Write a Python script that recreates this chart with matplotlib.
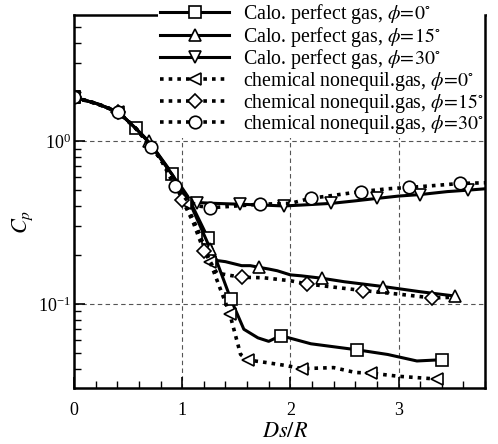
import numpy as np
import matplotlib
matplotlib.use('Agg')
import matplotlib.pyplot as plt
from matplotlib.ticker import MultipleLocator, LogLocator, NullFormatter

plt.rcParams['font.family'] = ['Liberation Serif', 'DejaVu Serif']
plt.rcParams['mathtext.fontset'] = 'stix'

# Calo. perfect gas, phi = 0, 15, 30
calo0_x = [0, 0.21, 0.41, 0.57, 0.72, 0.91, 1.05, 1.24, 1.45, 1.57, 1.70, 1.80, 1.91, 2.19, 2.62, 2.90, 3.17, 3.40]
calo0_y = [1.86, 1.70, 1.51, 1.20, 0.94, 0.63, 0.46, 0.253, 0.107, 0.070, 0.062, 0.059, 0.064, 0.057, 0.0523, 0.049, 0.0447, 0.0455]
calo0_marks = [0, 3, 5, 7, 8, 12, 14, 17]

calo15_x = [0, 0.21, 0.41, 0.57, 0.69, 0.80, 0.91, 1.05, 1.26, 1.32, 1.40, 1.55, 1.63, 1.71, 1.80, 1.88, 2.0, 2.10, 2.29, 2.50, 2.86, 3.2, 3.52]
calo15_y = [1.86, 1.70, 1.51, 1.20, 1.0, 0.78, 0.62, 0.45, 0.218, 0.185, 0.182, 0.172, 0.172, 0.168, 0.164, 0.160, 0.151, 0.149, 0.144, 0.137, 0.128, 0.119, 0.112]
calo15_marks = [0, 4, 8, 13, 18, 20, 22]

calo30_x = [0, 0.21, 0.41, 0.57, 0.72, 0.91, 1.0, 1.07, 1.14, 1.30, 1.53, 1.75, 1.94, 2.10, 2.38, 2.60, 2.80, 3.0, 3.20, 3.45, 3.64, 3.80]
calo30_y = [1.86, 1.70, 1.51, 1.20, 0.94, 0.62, 0.49, 0.43, 0.42, 0.415, 0.41, 0.405, 0.40, 0.405, 0.415, 0.43, 0.445, 0.46, 0.47, 0.49, 0.50, 0.51]
calo30_marks = [0, 8, 10, 12, 14, 16, 18, 20]

# chemical nonequil. gas, phi = 0, 15, 30
chem0_x = [0, 0.21, 0.41, 0.57, 0.72, 0.91, 1.03, 1.15, 1.26, 1.35, 1.44, 1.54, 1.61, 1.78, 1.95, 2.11, 2.40, 2.60, 2.75, 3.0, 3.36]
chem0_y = [1.86, 1.70, 1.51, 1.20, 0.93, 0.60, 0.42, 0.28, 0.18, 0.125, 0.087, 0.049, 0.0453, 0.0437, 0.042, 0.0401, 0.0407, 0.038, 0.0376, 0.036, 0.0346]
chem0_marks = [0, 2, 6, 8, 10, 12, 15, 18, 20]

chem15_x = [0, 0.21, 0.41, 0.57, 0.72, 0.91, 1.0, 1.10, 1.20, 1.32, 1.44, 1.55, 1.75, 2.0, 2.15, 2.40, 2.67, 3.0, 3.31, 3.50]
chem15_y = [1.86, 1.70, 1.51, 1.20, 0.93, 0.60, 0.436, 0.32, 0.213, 0.155, 0.150, 0.146, 0.145, 0.139, 0.133, 0.127, 0.121, 0.115, 0.109, 0.110]
chem15_marks = [0, 2, 6, 8, 11, 14, 16, 18]

chem30_x = [0, 0.21, 0.41, 0.57, 0.71, 0.80, 0.93, 1.05, 1.15, 1.26, 1.50, 1.72, 2.0, 2.19, 2.40, 2.65, 2.90, 3.10, 3.35, 3.57, 3.80]
chem30_y = [1.86, 1.70, 1.51, 1.20, 0.92, 0.78, 0.53, 0.43, 0.40, 0.39, 0.40, 0.41, 0.415, 0.446, 0.465, 0.49, 0.51, 0.52, 0.535, 0.55, 0.555]
chem30_marks = [0, 2, 4, 6, 9, 11, 13, 15, 17, 19]

labels = [r'Calo. perfect gas, $\phi\!=\!0^{\circ}$',
          r'Calo. perfect gas, $\phi\!=\!15^{\circ}$',
          r'Calo. perfect gas, $\phi\!=\!30^{\circ}$',
          r'chemical nonequil.gas, $\phi\!=\!0^{\circ}$',
          r'chemical nonequil.gas, $\phi\!=\!15^{\circ}$',
          r'chemical nonequil.gas, $\phi\!=\!30^{\circ}$']

series = [(calo0_x, calo0_y, calo0_marks, 's', '-'),
          (calo15_x, calo15_y, calo15_marks, '^', '-'),
          (calo30_x, calo30_y, calo30_marks, 'v', '-'),
          (chem0_x, chem0_y, chem0_marks, '<', (0, (1, 1.4))),
          (chem15_x, chem15_y, chem15_marks, 'D', (0, (1, 1.4))),
          (chem30_x, chem30_y, chem30_marks, 'o', (0, (1, 1.4)))]

fig = plt.figure(figsize=(4.98, 4.44), dpi=100)
ax = fig.add_axes([0.1486, 0.1261, 0.8254, 0.8401])

for (x, y, marks, mk, ls), lab in zip(series, labels):
   msize = {'D': 7, 'o': 9}.get(mk, 8)
   lw = 2.2 if ls == '-' else 2.6
   ax.plot(x, y, color='black', linestyle=ls, linewidth=lw, marker=mk, markevery=marks,
           markersize=msize, markerfacecolor='white', markeredgecolor='black',
           markeredgewidth=1.2, label=lab)

ax.set_yscale('log')
ax.set_xlim(0, 3.8)
ax.set_ylim(0.0305, 5.95)
ax.xaxis.set_major_locator(MultipleLocator(1))
ax.xaxis.set_minor_locator(MultipleLocator(0.2))
ax.yaxis.set_major_locator(LogLocator(base=10))
ax.yaxis.set_minor_locator(LogLocator(base=10, subs=np.arange(2, 10)))
ax.yaxis.set_minor_formatter(NullFormatter())

ax.grid(True, which='major', linestyle=(0, (4, 3)), color='#555555', linewidth=0.8)
ax.tick_params(which='both', direction='in', top=False, right=False, labelsize=13)
ax.tick_params(which='major', length=8, width=1.2)
ax.tick_params(axis='x', which='major', pad=10)
ax.tick_params(axis='y', which='major', pad=2)
ax.tick_params(which='minor', length=5, width=1.0)
for sp in ax.spines.values():
   sp.set_linewidth(1.8)
ax.spines['right'].set_zorder(10)

ax.set_xlabel(r'$Ds/R$', fontsize=16)
ax.set_ylabel(r'$C_p$', fontsize=16)
ax.xaxis.set_label_coords(0.513, -0.095)
ax.yaxis.set_label_coords(-0.095, 0.445)

leg = ax.legend(loc='upper left', bbox_to_anchor=(0.205, 1.04), fontsize=14.3,
                handlelength=3.45, handletextpad=0.7, labelspacing=-0.07,
                frameon=True, fancybox=False, borderpad=0.1, borderaxespad=0)
leg.get_frame().set_edgecolor('none')
leg.get_frame().set_facecolor('white')
leg.get_frame().set_alpha(1)

plt.savefig('out.png', dpi=100)
plt.close()
